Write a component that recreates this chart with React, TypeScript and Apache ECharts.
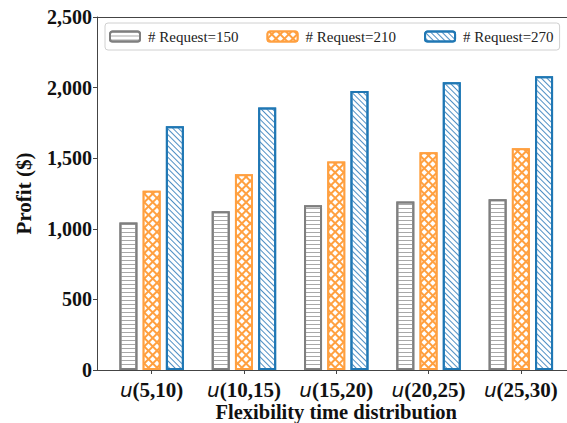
import React, { useEffect, useRef } from "react";
import * as echarts from "echarts";

const categories = ["u(5,10)", "u(10,15)", "u(15,20)", "u(20,25)", "u(25,30)"];
const seriesNames = ["# Request=150", "# Request=210", "# Request=270"];
const req150 = [1045, 1125, 1167, 1194, 1210];
const req210 = [1269, 1387, 1477, 1542, 1571];
const req270 = [1726, 1859, 1976, 2038, 2080];
const yTicks = [0, 500, 1000, 1500, 2000, 2500];

const GRAY = "#7f7f7f";
const ORANGE = "#ffa040";
const BLUE = "#1f77b4";
const SERIF = "'Liberation Serif', 'DejaVu Serif', serif";

export default function App() {
  const ref = useRef<HTMLDivElement>(null);
  useEffect(() => {
    if (!ref.current) return;
    const chart = echarts.init(ref.current, null, { renderer: "svg" });
    const yMax = yTicks[yTicks.length - 1];
    const common = {
      type: "bar",
      xAxisIndex: 0,
      yAxisIndex: 0,
      barWidth: 18,
      barGap: "29%",
    };
    chart.setOption({
      animation: false,
      backgroundColor: "#fff",
      legend: {
        left: 105,
        top: 23,
        padding: [6, 6, 6, 4],
        itemWidth: 30,
        itemHeight: 10,
        itemGap: 28,
        borderColor: "#d0d0d0",
        borderWidth: 1,
        borderRadius: 3,
        textStyle: { fontFamily: SERIF, fontSize: 15, color: "#222", padding: [0, 0, 0, 3] },
        data: seriesNames,
      },
      grid: [
        { left: 105.5, right: 0, top: 17, bottom: 53, outerBoundsMode: "none", containLabel: false },
        { left: 97, right: 0, top: 17, bottom: 53, outerBoundsMode: "none", containLabel: false },
      ],
      xAxis: [
        {
          type: "category",
          gridIndex: 0,
          data: categories,
          axisLine: { show: false },
          axisTick: { show: true, alignWithLabel: true, length: 4, lineStyle: { color: "#444" } },
          axisLabel: {
            interval: 0,
            margin: 9,
            formatter: (v: string) => `{u|${v.slice(0, 1)}}{b|${v.slice(1)}}`,
            rich: {
              u: { fontFamily: "'DejaVu Sans'", fontStyle: "italic", fontSize: 20, color: "#111" },
              b: { fontFamily: SERIF, fontWeight: "bold", fontSize: 21, color: "#111" },
            },
          },
          name: "Flexibility time distribution",
          nameLocation: "middle",
          nameGap: 31,
          nameMoveOverlap: false,
          nameTextStyle: { fontFamily: SERIF, fontWeight: "bold", fontSize: 20.5, color: "#111" },
        },
        {
          type: "value",
          gridIndex: 1,
          position: "bottom",
          axisLine: { show: true, lineStyle: { color: "#444", width: 1 } },
          axisTick: { show: false },
          axisLabel: { show: false },
          splitLine: { show: false },
        },
        {
          type: "value",
          gridIndex: 1,
          position: "top",
          axisLine: { show: true, lineStyle: { color: "#444", width: 1 } },
          axisTick: { show: false },
          axisLabel: { show: false },
          splitLine: { show: false },
        },
      ],
      yAxis: [
        {
          type: "value",
          gridIndex: 0,
          min: 0,
          max: yMax,
          show: false,
        },
        {
          type: "value",
          gridIndex: 1,
          min: 0,
          max: yMax,
          interval: 500,
          axisLine: { show: true, lineStyle: { color: "#444", width: 1 } },
          axisTick: { show: true, length: 4, lineStyle: { color: "#444" } },
          splitLine: { show: false },
          axisLabel: {
            margin: 5,
            fontFamily: SERIF,
            fontWeight: "bold",
            fontSize: 20,
            color: "#111",
            formatter: (v: number) => v.toLocaleString("en-US"),
          },
          name: "Profit ($)",
          nameLocation: "middle",
          nameGap: 63,
          nameTextStyle: { fontFamily: SERIF, fontWeight: "bold", fontSize: 21, color: "#111" },
        },
      ],
      series: [
        {
          ...common,
          name: seriesNames[0],
          data: req150,
          itemStyle: {
            color: "#fff",
            borderColor: GRAY,
            borderWidth: 2,
            decal: {
              symbol: "rect",
              color: "#a8a8a8",
              dashArrayX: [1, 0],
              dashArrayY: [1, 2.3],
              rotation: 0,
            },
          },
        },
        {
          ...common,
          name: seriesNames[1],
          data: req210,
          itemStyle: {
            color: ORANGE,
            borderColor: ORANGE,
            borderWidth: 2,
            decal: {
              symbol: "rect",
              color: "#fff",
              dashArrayX: [3.6, 1.1],
              dashArrayY: [3.6, 1.1],
              rotation: Math.PI / 4,
            },
          },
        },
        {
          ...common,
          name: seriesNames[2],
          data: req270,
          itemStyle: {
            color: "#fff",
            borderColor: BLUE,
            borderWidth: 2,
            decal: {
              symbol: "rect",
              color: "#4f8fc4",
              dashArrayX: [1, 0],
              dashArrayY: [1, 2.2],
              rotation: Math.PI / 4,
            },
          },
        },
      ],
    });
    return () => chart.dispose();
  }, []);
  return (
    <div
      ref={ref}
      style={{ position: "fixed", left: 0, top: 0, width: 567, height: 423 }}
    />
  );
}
